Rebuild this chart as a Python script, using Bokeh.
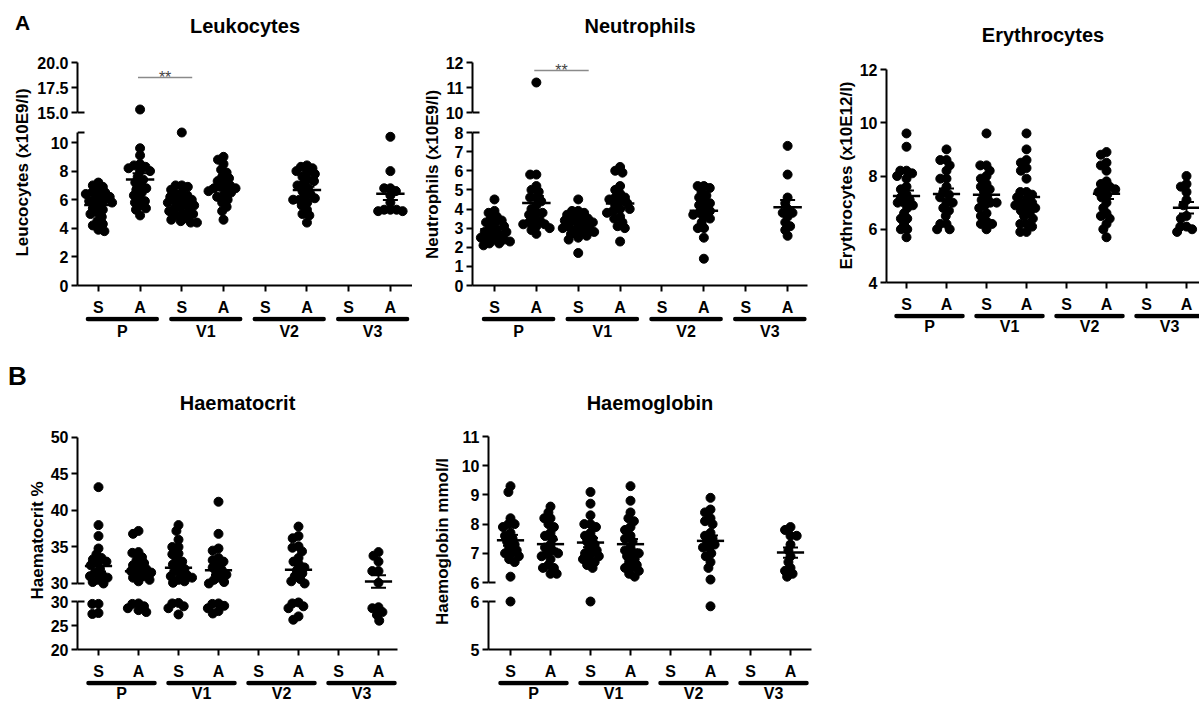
import numpy as np
from bokeh.plotting import figure
from bokeh.models import Range1d, FixedTicker, Whisker, TeeHead, ColumnDataSource, LinearAxis
from bokeh.core.properties import value
from bokeh.layouts import row, column
from bokeh.embed import file_html
from bokeh.resources import INLINE

FONT = "Liberation Sans"

# ---------------- data ----------------
categories = ["S", "A", "S", "A", "S", "A", "S", "A"]
groups = ["P", "V1", "V2", "V3"]

# Leukocytes (x10E9/l)
leuko_P_S = [7.2, 7.0, 6.9, 6.7, 6.5, 6.5, 6.4, 6.3, 6.2, 6.0, 6.0, 5.9, 5.8, 5.6, 5.4, 5.3, 5.1, 5.0, 4.8, 4.5, 4.3, 4.2, 3.9, 3.8]
leuko_P_A = [15.3, 9.6, 9.1, 8.5, 8.4, 8.3, 8.2, 8.0, 8.0, 7.6, 7.4, 7.2, 7.0, 6.8, 6.7, 6.5, 6.3, 6.1, 5.9, 5.8, 5.6, 5.4, 5.3, 4.9]
leuko_V1_S = [10.7, 7.0, 7.0, 6.9, 6.7, 6.5, 6.4, 6.3, 6.2, 6.0, 6.0, 5.9, 5.8, 5.7, 5.6, 5.5, 5.4, 5.3, 5.2, 5.0, 5.0, 4.9, 4.7, 4.6, 4.5, 4.4, 4.4]
leuko_V1_A = [9.0, 8.8, 8.5, 8.1, 7.9, 7.6, 7.5, 7.3, 7.2, 7.0, 6.9, 6.8, 6.8, 6.7, 6.6, 6.5, 6.3, 6.2, 6.0, 5.8, 5.5, 5.2, 4.6]
leuko_V2_S = []
leuko_V2_A = [8.4, 8.3, 8.2, 8.0, 7.9, 7.8, 7.6, 7.4, 7.3, 7.1, 7.0, 6.8, 6.6, 6.4, 6.2, 6.1, 6.0, 6.0, 5.8, 5.6, 5.3, 5.0, 4.9, 4.4]
leuko_V3_S = []
leuko_V3_A = [10.4, 8.0, 6.8, 6.8, 6.6, 6.3, 5.8, 5.3, 5.3, 5.3, 5.2, 5.2]

# Neutrophils (x10E9/l)
neutro_P_S = [4.5, 3.9, 3.8, 3.6, 3.5, 3.4, 3.3, 3.2, 3.1, 3.0, 2.9, 2.8, 2.8, 2.7, 2.6, 2.5, 2.5, 2.4, 2.4, 2.3, 2.2, 2.2, 2.1]
neutro_P_A = [11.2, 5.8, 5.8, 5.2, 5.0, 4.9, 4.6, 4.6, 4.4, 4.2, 4.0, 3.8, 3.8, 3.7, 3.5, 3.4, 3.3, 3.2, 3.2, 3.1, 3.0, 2.9, 2.7]
neutro_V1_S = [4.5, 3.9, 3.9, 3.8, 3.7, 3.6, 3.5, 3.5, 3.4, 3.4, 3.3, 3.2, 3.2, 3.1, 3.0, 3.0, 2.9, 2.8, 2.8, 2.7, 2.6, 2.5, 2.4, 1.7]
neutro_V1_A = [6.2, 6.0, 5.9, 5.2, 5.0, 4.8, 4.6, 4.6, 4.5, 4.4, 4.3, 4.2, 4.0, 4.0, 3.9, 3.8, 3.6, 3.5, 3.3, 3.1, 3.0, 2.3]
neutro_V2_S = []
neutro_V2_A = [5.2, 5.2, 5.1, 4.9, 4.7, 4.6, 4.4, 4.3, 4.2, 4.0, 3.9, 3.8, 3.7, 3.6, 3.5, 3.3, 3.0, 3.0, 2.5, 1.4]
neutro_V3_S = []
neutro_V3_A = [7.3, 5.8, 4.6, 4.3, 4.0, 3.8, 3.8, 3.6, 3.3, 3.1, 2.9, 2.6]

# Erythrocytes (x10E12/l)
eryth_P_S = [9.6, 9.1, 8.2, 8.2, 8.1, 8.0, 7.9, 7.6, 7.5, 7.3, 7.2, 7.1, 7.0, 7.0, 6.9, 6.8, 6.6, 6.4, 6.4, 6.2, 6.0, 6.0, 5.7]
eryth_P_A = [9.0, 8.6, 8.6, 8.4, 8.2, 7.9, 7.9, 7.6, 7.4, 7.3, 7.2, 7.0, 7.0, 6.8, 6.7, 6.5, 6.2, 6.2, 6.0, 6.0]
eryth_V1_S = [9.6, 8.4, 8.4, 8.2, 8.0, 7.9, 7.7, 7.6, 7.5, 7.4, 7.2, 7.1, 7.0, 7.0, 6.9, 6.8, 6.6, 6.5, 6.3, 6.2, 6.2, 6.0]
eryth_V1_A = [9.6, 9.0, 8.6, 8.5, 8.3, 8.2, 7.9, 7.4, 7.4, 7.3, 7.2, 7.1, 7.0, 7.0, 6.9, 6.8, 6.8, 6.7, 6.6, 6.5, 6.4, 6.2, 6.2, 6.1, 5.9, 5.9]
eryth_V2_S = []
eryth_V2_A = [8.9, 8.8, 8.5, 8.4, 8.2, 7.8, 7.7, 7.6, 7.5, 7.5, 7.4, 7.3, 7.2, 7.0, 6.8, 6.6, 6.5, 6.4, 6.2, 6.0, 5.7]
eryth_V3_S = []
eryth_V3_A = [8.0, 7.7, 7.6, 7.4, 7.1, 6.9, 6.5, 6.4, 6.1, 6.1, 6.0, 5.9]

# Haematocrit %
haemat_P_S = [43.2, 38.0, 36.5, 34.8, 34.0, 33.5, 33.3, 33.0, 32.8, 32.5, 32.0, 31.5, 31.2, 31.0, 30.8, 30.5, 30.2, 30.0, 29.5, 29.5, 27.6, 27.4]
haemat_P_A = [37.2, 36.8, 34.3, 34.2, 33.6, 33.2, 32.8, 32.5, 32.2, 32.0, 31.7, 31.5, 31.2, 31.0, 30.8, 30.5, 30.3, 29.6, 29.5, 29.0, 28.6, 28.2, 27.8]
haemat_V1_S = [38.0, 37.2, 36.0, 35.0, 35.0, 34.1, 34.0, 33.3, 33.0, 32.6, 32.3, 32.0, 31.7, 31.4, 31.2, 31.0, 30.8, 30.5, 30.3, 30.1, 29.7, 29.6, 29.0, 28.6, 27.3]
haemat_V1_A = [41.2, 36.8, 34.8, 34.5, 33.5, 33.2, 33.0, 32.5, 32.2, 31.8, 31.5, 31.2, 30.8, 30.5, 30.2, 30.0, 29.6, 29.5, 29.1, 28.6, 28.0, 27.5]
haemat_V2_S = []
haemat_V2_A = [37.8, 36.5, 36.2, 35.1, 34.9, 34.4, 33.5, 33.0, 32.6, 32.2, 31.8, 31.4, 31.0, 30.6, 30.3, 30.0, 29.8, 29.6, 29.0, 28.6, 26.9, 26.2]
haemat_V3_S = []
haemat_V3_A = [34.3, 33.8, 33.0, 31.7, 31.7, 30.1, 28.8, 28.6, 27.8, 27.2, 26.0]

# Haemoglobin mmol/l
haemo_P_S = [9.3, 9.1, 8.2, 8.0, 8.0, 7.9, 7.7, 7.6, 7.5, 7.4, 7.3, 7.2, 7.1, 7.0, 7.0, 6.9, 6.8, 6.7, 6.2, 6.0]
haemo_P_A = [8.6, 8.4, 8.2, 8.2, 8.0, 7.9, 7.7, 7.6, 7.5, 7.3, 7.2, 7.1, 7.0, 7.0, 6.9, 6.8, 6.6, 6.5, 6.5, 6.3, 6.3]
haemo_V1_S = [9.1, 8.7, 8.3, 8.0, 8.0, 7.9, 7.7, 7.6, 7.5, 7.4, 7.3, 7.2, 7.1, 7.0, 7.0, 6.9, 6.8, 6.8, 6.7, 6.6, 6.5, 6.0]
haemo_V1_A = [9.3, 8.8, 8.4, 8.2, 8.1, 7.9, 7.8, 7.6, 7.5, 7.4, 7.2, 7.1, 7.0, 7.0, 6.9, 6.8, 6.7, 6.6, 6.5, 6.5, 6.4, 6.3, 6.2]
haemo_V2_S = []
haemo_V2_A = [8.9, 8.5, 8.4, 8.2, 8.1, 8.0, 7.7, 7.6, 7.5, 7.4, 7.3, 7.2, 7.2, 7.0, 6.9, 6.7, 6.5, 6.1, 5.9]
haemo_V3_S = []
haemo_V3_A = [7.9, 7.8, 7.6, 7.6, 7.3, 7.1, 6.9, 6.7, 6.5, 6.4, 6.3, 6.2]

# significance brackets: (from category, to category, height, label)
sig_leuko = [(2, 3, 18.5, "**")]
sig_neutro = [(2, 3, 11.68, "**")]

# ---------------- helpers ----------------
XAX_H = 8       # room for the x tick marks under a frame
DECO_TOP = 23   # room for the S/A labels above the group bars


def swarm(pys, d):
    order = np.argsort(pys, kind="stable")
    xs = np.zeros(len(pys))
    placed = []
    for i in order:
        y = pys[i]
        cands = [0.0]
        for (qx, qy) in placed:
            dy = y - qy
            if abs(dy) < d:
                dx = np.sqrt(d * d - dy * dy)
                cands += [qx + dx, qx - dx]
        cands.sort(key=lambda c: (abs(c), c))
        for c in cands:
            if all((c - qx) ** 2 + (y - qy) ** 2 >= d * d - 1e-6 for qx, qy in placed):
                xs[i] = c
                break
        placed.append((xs[i], y))
    return xs


def style_axis(ax, size="16px"):
    ax.axis_line_width = 2
    ax.axis_line_color = "black"
    ax.major_tick_line_width = 2
    ax.major_tick_line_color = "black"
    ax.major_tick_out = 6
    ax.major_tick_in = 0
    ax.minor_tick_line_color = None
    ax.major_label_text_font = FONT
    ax.major_label_text_font_style = "bold"
    ax.major_label_text_font_size = size
    ax.major_label_text_color = "black"


def blank(p):
    p.grid.visible = False
    p.outline_line_color = None
    p.background_fill_color = "white"
    p.border_fill_color = "white"


def build_panel(spec, H):
    W, bl, br = spec["col_w"], spec["bl"], spec["br"]
    fw = W - bl - br
    x0, x1 = spec["x_range"]
    xr = Range1d(x0, x1)
    xppu = fw / (x1 - x0)
    segs = spec["segments"]
    cat_ticks = [j + 1 for j in range(len(categories))]

    tops, t = [], 0
    for s in segs:
        tops.append(t)
        t += s["frame_h"] + (XAX_H if s.get("xaxis") else 0)
    deco_h = H - t

    def which(v):
        for i, s in enumerate(segs):
            if s["pred"](v):
                return i
        return len(segs) - 1

    def page_y(v, i):
        r0, r1 = segs[i]["range"]
        return tops[i] + (r1 - v) / (r1 - r0) * segs[i]["frame_h"]

    pts = [dict(x=[], y=[]) for _ in segs]
    stats = [dict(x=[], m=[], lo=[], hi=[], x0=[], x1=[]) for _ in segs]
    for ci, vals in enumerate(spec["data"]):
        if not vals:
            continue
        cx = ci + 1
        idx = [which(v) for v in vals]
        pys = np.array([page_y(v, i) for v, i in zip(vals, idx)])
        offs = swarm(pys, 6.2)
        for v, i, o in zip(vals, idx, offs):
            pts[i]["x"].append(cx + o / xppu)
            pts[i]["y"].append(v)
        arr = np.array(vals, dtype=float)
        m = arr.mean()
        sem = arr.std(ddof=1) / np.sqrt(len(arr))
        k = which(m)
        st = stats[k]
        st["x"].append(cx); st["m"].append(m); st["lo"].append(m - sem); st["hi"].append(m + sem)
        st["x0"].append(cx - 0.34); st["x1"].append(cx + 0.34)

    figs = []
    for i, s in enumerate(segs):
        fh = s["frame_h"]
        bb = XAX_H if s.get("xaxis") else 0
        r0, r1 = s["range"]
        p = figure(width=W, height=fh + bb, x_range=xr, y_range=Range1d(r0, r1),
                   output_backend="svg", toolbar_location=None,
                   min_border_left=bl, min_border_right=br,
                   min_border_top=0, min_border_bottom=bb)
        blank(p)
        ya = p.yaxis[0]
        style_axis(ya)
        ya.ticker = FixedTicker(ticks=s["ticks"])
        ya.bounds = s["bounds"]
        ya.major_label_standoff = 3
        if s.get("labels"):
            ya.major_label_overrides = {t_: l_ for t_, l_ in zip(s["ticks"], s["labels"])}
        xa = p.xaxis[0]
        if s.get("xaxis"):
            style_axis(xa, "0px")
            xa.ticker = FixedTicker(ticks=cat_ticks)
            xa.major_label_overrides = {j: "" for j in cat_ticks}
            xa.major_label_standoff = 0
        else:
            xa.visible = False

        if s.get("break_at") is not None:
            b = s["break_at"]
            p.segment(x0=[x0], x1=[x0 + 7 / xppu], y0=[b], y1=[b], line_width=2, line_color="black")

        if pts[i]["x"]:
            p.scatter(x="x", y="y", source=ColumnDataSource(pts[i]), size=9,
                      fill_color="black", line_color="black")
        if stats[i]["x"]:
            src = ColumnDataSource(stats[i])
            p.segment(x0="x0", x1="x1", y0="m", y1="m", source=src,
                      line_width=2.5, line_color="black")
            p.add_layout(Whisker(source=src, base="x", lower="lo", upper="hi", dimension="height",
                                 line_width=2, line_color="black",
                                 upper_head=TeeHead(size=15, line_width=2, line_color="black"),
                                 lower_head=TeeHead(size=15, line_width=2, line_color="black")))

        if i == 0:
            ty = r1 - (spec["title_y"] - tops[0]) / fh * (r1 - r0)
            p.text(x=[(x0 + x1) / 2], y=[ty], text=[spec["title"]], text_align="center",
                   text_baseline="middle", text_font=value(FONT), text_font_style="bold",
                   text_font_size="20px", text_color="black")
            for (a, bcat, yv, lab) in spec.get("sig", []):
                xa0, xa1 = a - 0.05, bcat + 0.25
                p.segment(x0=[xa0], x1=[xa1], y0=[yv], y1=[yv], line_color="#8a8a8a", line_width=1.5)
                p.text(x=[(xa0 + xa1) / 2], y=[yv], text=[lab], text_align="center",
                       text_baseline="alphabetic", text_font=value(FONT),
                       text_font_size="16px", text_color="#444444")
        figs.append(p)

    # S/A labels, group bars and group names under the x axis
    g_lo = [2 * j + 1 - 0.25 for j in range(len(groups))]
    g_hi = [2 * j + 2 + 0.4 for j in range(len(groups))]
    g_mid = [(a + b) / 2 for a, b in zip(g_lo, g_hi)]
    dfh = deco_h - DECO_TOP
    d = figure(width=W, height=deco_h, x_range=xr, y_range=Range1d(dfh, 0),
               output_backend="svg", toolbar_location=None,
               min_border_left=bl, min_border_right=br, min_border_top=DECO_TOP, min_border_bottom=0)
    blank(d)
    d.axis.visible = False
    cat_axis = LinearAxis(ticker=FixedTicker(ticks=cat_ticks),
                          major_label_overrides={j + 1: c for j, c in enumerate(categories)})
    style_axis(cat_axis, "16px")
    cat_axis.axis_line_color = None
    cat_axis.major_tick_line_color = None
    cat_axis.major_tick_out = 0
    cat_axis.major_label_standoff = 1
    d.add_layout(cat_axis, "above")
    d.segment(x0=g_lo, x1=g_hi, y0=[2.5] * len(groups), y1=[2.5] * len(groups),
              line_width=4.5, line_color="black", line_cap="round")
    d.text(x=g_mid, y=[spec["group_y"]] * len(groups), text=groups, text_align="center",
           text_baseline="middle", text_font=value(FONT), text_font_style="bold",
           text_font_size="16px", text_color="black")
    figs.append(d)

    # axis title (and panel letter) column on the left
    Lw = spec["label_w"]
    lf = figure(width=Lw, height=H, x_range=Range1d(0, Lw), y_range=Range1d(0, H),
                output_backend="svg", toolbar_location=None,
                min_border_left=0, min_border_right=0, min_border_top=0, min_border_bottom=0)
    blank(lf)
    lf.axis.visible = False
    lx, ly = spec["ylabel_xy"]
    lf.text(x=[lx], y=[H - ly], text=[spec["ylabel"]], angle=np.pi / 2, text_align="center",
            text_baseline="middle", text_font=value(FONT), text_font_style="bold",
            text_font_size=spec.get("ylabel_size", "17px"), text_color="black")
    if spec.get("letter"):
        txt, ax_, ay_, fs = spec["letter"]
        lf.text(x=[ax_], y=[H - ay_], text=[txt], text_align="center", text_baseline="middle",
                text_font=value(FONT), text_font_style="bold", text_font_size=fs,
                text_color="black")
    return row(lf, column(*figs))


ROW1_H, ROW2_H = 360, 344

specs_row1 = [
    dict(title="Leukocytes", title_y=25, ylabel="Leucocytes (x10E9/l)", ylabel_xy=(22, 172),
         letter=("A", 22, 22, "21px"), label_w=34, col_w=378, bl=43, br=0, x_range=(0.5, 8.53),
         group_y=14.5,
         data=[leuko_P_S, leuko_P_A, leuko_V1_S, leuko_V1_A, leuko_V2_S, leuko_V2_A, leuko_V3_S, leuko_V3_A],
         sig=sig_leuko,
         segments=[
             dict(frame_h=122, range=(14.0, 26.2), bounds=(15, 20), ticks=[15, 17.5, 20],
                  labels=["15.0", "17.5", "20.0"], break_at=15, pred=lambda v: v > 10.8),
             dict(frame_h=163, range=(0, 11.4), bounds=(0, 10.7), ticks=[0, 2, 4, 6, 8, 10],
                  break_at=10.7, xaxis=True, pred=lambda v: v <= 10.8),
         ]),
    dict(title="Neutrophils", title_y=25, ylabel="Neutrophils (x10E9/l)", ylabel_xy=(20, 174),
         label_w=30, col_w=378, bl=30, br=13, x_range=(0.475, 8.475), group_y=14.5,
         data=[neutro_P_S, neutro_P_A, neutro_V1_S, neutro_V1_A, neutro_V2_S, neutro_V2_A, neutro_V3_S, neutro_V3_A],
         sig=sig_neutro,
         segments=[
             dict(frame_h=122, range=(9.6, 14.48), bounds=(10, 12), ticks=[10, 11, 12],
                  labels=["10", "11", "12"], break_at=10, pred=lambda v: v > 8.05),
             dict(frame_h=163, range=(0, 8.523), bounds=(0, 8), ticks=[0, 1, 2, 3, 4, 5, 6, 7, 8],
                  break_at=8, xaxis=True, pred=lambda v: v <= 8.05),
         ]),
    dict(title="Erythrocytes", title_y=34, ylabel="Erythrocytes (x10E12/l)", ylabel_xy=(26, 175),
         label_w=36, col_w=343, bl=30, br=0, x_range=(0.5, 8.325), group_y=13,
         data=[eryth_P_S, eryth_P_A, eryth_V1_S, eryth_V1_A, eryth_V2_S, eryth_V2_A, eryth_V3_S, eryth_V3_A],
         segments=[
             dict(frame_h=282, range=(4, 14.594), bounds=(4, 12), ticks=[4, 6, 8, 10, 12],
                  xaxis=True, pred=lambda v: True),
         ]),
]

specs_row2 = [
    dict(title="Haematocrit", title_y=42, ylabel="Haematocrit %", ylabel_xy=(37, 180),
         letter=("B", 17, 15, "26px"), label_w=46, col_w=374, bl=31, br=23, x_range=(0.475, 8.475),
         group_y=13,
         data=[haemat_P_S, haemat_P_A, haemat_V1_S, haemat_V1_A, haemat_V2_S, haemat_V2_A, haemat_V3_S, haemat_V3_A],
         segments=[
             dict(frame_h=232, range=(28.767, 60.548), bounds=(30, 50), ticks=[30, 35, 40, 45, 50],
                  break_at=30, pred=lambda v: v >= 30),
             dict(frame_h=57, range=(20, 31.875), bounds=(20, 30), ticks=[20, 25, 30],
                  break_at=30, xaxis=True, pred=lambda v: v < 30),
         ]),
    dict(title="Haemoglobin", title_y=42, ylabel="Haemoglobin mmol/l", ylabel_xy=(22, 181),
         label_w=35, col_w=385, bl=33, br=29, x_range=(0.45, 8.525), group_y=13,
         data=[haemo_P_S, haemo_P_A, haemo_V1_S, haemo_V1_A, haemo_V2_S, haemo_V2_A, haemo_V3_S, haemo_V3_A],
         segments=[
             dict(frame_h=232, range=(5.658, 13.603), bounds=(6, 11), ticks=[6, 7, 8, 9, 10, 11],
                  break_at=6, pred=lambda v: v > 6.05),
             dict(frame_h=57, range=(5, 6.1875), bounds=(5, 6), ticks=[5, 6],
                  break_at=6, xaxis=True, pred=lambda v: v <= 6.05),
         ]),
]

row1 = row(*[build_panel(s, ROW1_H) for s in specs_row1])
row2 = row(*[build_panel(s, ROW2_H) for s in specs_row2])
page = column(row1, row2)
open("out.html", "w").write(file_html(page, INLINE))
